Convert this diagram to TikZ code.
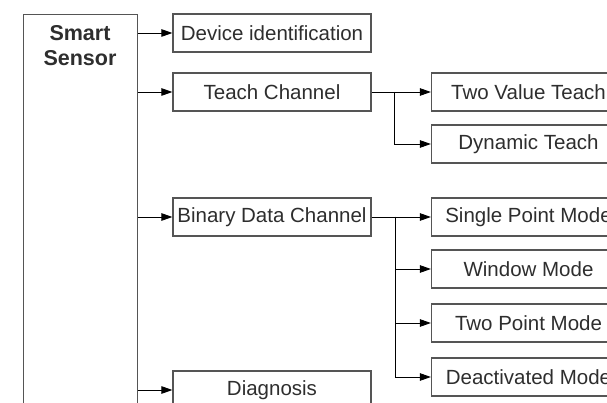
\documentclass[tikz,border=0pt]{standalone}
\usepackage{fontspec}
\setmainfont{Liberation Sans}
\usetikzlibrary{arrows.meta}
\definecolor{txt}{HTML}{2E2E2E}
\definecolor{edge}{HTML}{555555}
\tikzset{
  box/.style={draw=edge, line width=1.2pt, rectangle, inner sep=0pt, text=txt,
    font=\fontsize{20.5}{24}\selectfont},
  lbox/.style={box, minimum width=198pt, minimum height=38pt},
  rbox/.style={box, minimum width=194pt, minimum height=38pt},
  arr/.style={draw=black, line width=0.9pt, -{Triangle[length=11pt,width=7.5pt]}},
  ln/.style={draw=black, line width=0.9pt},
}
\begin{document}
\begin{tikzpicture}[x=1pt,y=-1pt]
\useasboundingbox (0,0) rectangle (607,403);
\clip (0,0) rectangle (607,403);
\fill[white] (0,0) rectangle (607,403);
% main box
\node[draw=edge, line width=1.3pt, minimum width=114pt, minimum height=406pt, anchor=north west, inner sep=0pt] (ss) at (23,14) {};
\node[text=txt, font=\bfseries\fontsize{21.5}{24.5}\selectfont, align=center, anchor=north] (sst) at (80,22) {Smart\\Sensor};
% level 1
\node[lbox] (dev) at (272,33) {Device identification};
\node[lbox] (teach) at (272,92) {Teach Channel};
\node[lbox] (bin) at (272,217) {Binary Data Channel};
\node[lbox] (diag) at (272,390) {Diagnosis};
% level 2
\node[rbox] (tvt) at (528.5,92) {Two Value Teach};
\node[rbox] (dyn) at (528.5,144) {Dynamic Teach};
\node[rbox] (spm) at (528.5,217) {Single Point Mode};
\node[rbox] (win) at (528.5,269) {Window Mode};
\node[rbox] (tpm) at (528.5,323) {Two Point Mode};
\node[rbox] (dea) at (528.5,377) {Deactivated Mode};
% connectors from main box
\foreach \t in {dev,teach,bin,diag}
  \draw[arr] (ss.east |- \t.west) -- (\t.west);
% teach branches
\coordinate (tj) at (394,92);
\draw[arr] (teach.east) -- (tvt.west);
\draw[arr] (tj) |- (dyn.west);
% binary branches
\coordinate (bj) at (395,217);
\draw[arr] (bin.east) -- (spm.west);
\draw[arr] (bj) |- (win.west);
\draw[arr] (bj) |- (tpm.west);
\draw[arr] (bj) |- (dea.west);
\end{tikzpicture}
\end{document}
